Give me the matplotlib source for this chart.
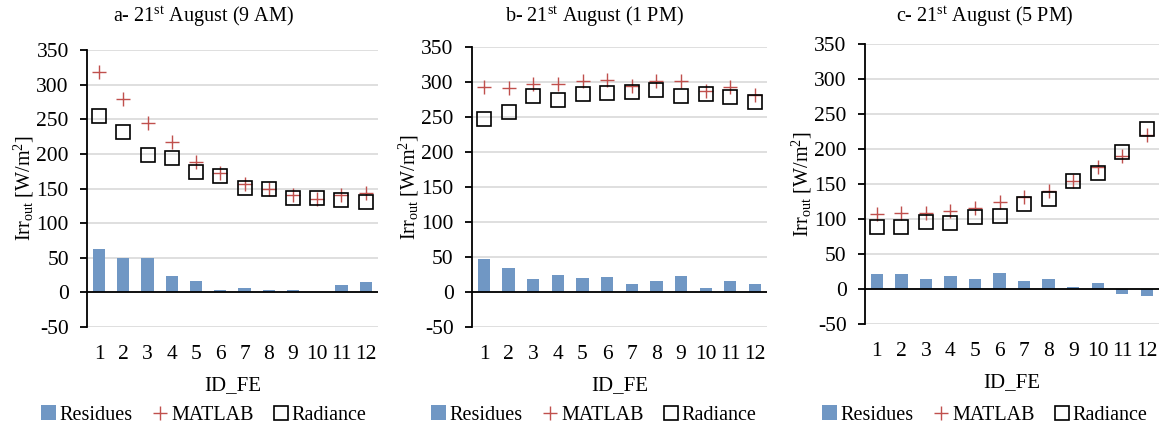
import numpy as np
from matplotlib import pyplot as plt

plt.rcParams['font.family'] = ['Liberation Serif', 'DejaVu Serif']
plt.rcParams['mathtext.fontset'] = 'custom'
plt.rcParams['mathtext.rm'] = 'Liberation Serif'
plt.rcParams['mathtext.it'] = 'Liberation Serif:italic'
plt.rcParams['axes.unicode_minus'] = False

ids = list(range(1, 13))

# a- 9 AM
matlab_a = [318, 279, 245, 217, 188, 172, 156, 150, 140, 135, 140, 144]
radiance_a = [255, 232, 198, 194, 174, 168, 151, 149, 137, 136, 133, 130]
residues_a = [63, 49, 49, 24, 16, 4, 6, 3, 4, 1, 11, 15]

# b- 1 PM
matlab_b = [293, 292, 298, 297, 302, 303, 295, 302, 301, 287, 293, 282]
radiance_b = [247, 258, 280, 274, 283, 284, 286, 289, 280, 283, 279, 272]
residues_b = [47, 34, 19, 24, 20, 21, 12, 15, 23, 6, 16, 11]

# c- 5 PM
matlab_c = [107, 108, 108, 112, 116, 125, 131, 140, 155, 175, 190, 220]
radiance_c = [88, 89, 96, 94, 103, 104, 121, 128, 154, 166, 196, 229]
residues_c = [21, 21, 14, 19, 14, 23, 12, 14, 3, 9, -7, -10]

titles = [r'a- 21$^{\mathrm{st}}$ August (9 AM)',
          r'b- 21$^{\mathrm{st}}$ August (1 PM)',
          r'c- 21$^{\mathrm{st}}$ August (5 PM)']
panels = [(residues_a, matlab_a, radiance_a),
          (residues_b, matlab_b, radiance_b),
          (residues_c, matlab_c, radiance_c)]

# axes boxes (left, bottom, width, height)
boxes = [(0.075, 0.238, 0.251, 0.645),
         (0.407, 0.238, 0.255, 0.652),
         (0.746, 0.245, 0.254, 0.652)]
# titles and legends sit a bit left of the plot centre (Excel chart area)
centres = [204 / 1159, 594 / 1159, 985 / 1159]

bar_col = '#7097c4'
plus_col = '#c0504d'

fig = plt.figure(figsize=(11.59, 4.29), dpi=100)

for box, cx, title, (res, mat, rad) in zip(boxes, centres, titles, panels):
    ax = fig.add_axes(box)
    ax.set_axisbelow(True)
    ax.grid(axis='y', color='#d9d9d9', linewidth=1.2)
    b = ax.bar(ids, res, width=0.5, color=bar_col, label='Residues', zorder=2)
    p, = ax.plot(ids, mat, linestyle='none', marker='+', markersize=10,
                 markeredgewidth=1.0, color=plus_col, label='MATLAB', zorder=3)
    s, = ax.plot(ids, rad, linestyle='none', marker='s', markersize=10,
                 markerfacecolor='none', markeredgecolor='black',
                 markeredgewidth=1.2, label='Radiance', zorder=4)
    ax.axhline(0, color='black', linewidth=1.3, zorder=3)
    ax.set_xlim(0.5, 12.5)
    ax.set_ylim(-50, 350)
    ax.set_yticks(range(-50, 351, 50))
    ax.set_xticks(ids)
    for sp in ['top', 'right', 'bottom']:
        ax.spines[sp].set_visible(False)
    ax.spines['left'].set_linewidth(1.3)
    ax.tick_params(axis='y', direction='out', length=5, width=1.3, labelsize=15.5, pad=8)
    ax.tick_params(axis='x', length=0, labelsize=15.5, pad=13)
    ax.set_xlabel('ID_FE', fontsize=15, labelpad=9)
    ax.set_ylabel(r'Irr$_{\mathrm{out}}$ [W/m$^{2}$]', fontsize=14.5, labelpad=0)
    fig.text(cx, 1 - 17 / 429, title, fontsize=14.5, ha='center', va='center')
    ax.legend(handles=[b, p, s], loc='center', bbox_to_anchor=(cx, 1 - 415 / 429),
              bbox_transform=fig.transFigure, ncol=3, frameon=False, fontsize=14.5,
              handlelength=0.7, handleheight=0.7, handletextpad=0.2,
              columnspacing=1.0, borderaxespad=0)

fig.savefig('out.png', dpi=100)
